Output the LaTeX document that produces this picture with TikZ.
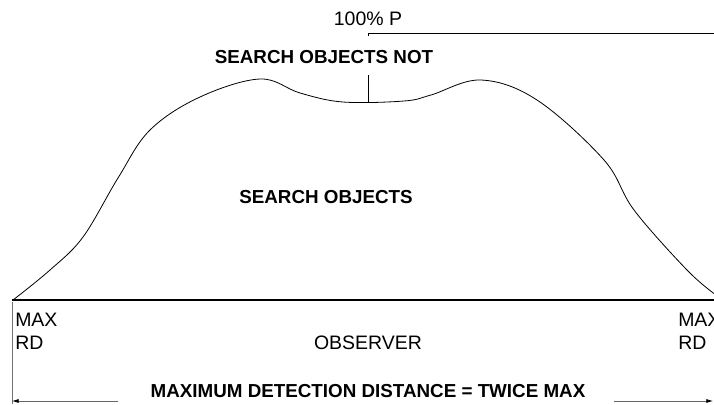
\documentclass[tikz,border=0pt]{standalone}
\usepackage{fontspec}
\setmainfont{Liberation Sans}
\usetikzlibrary{arrows.meta,positioning}

\begin{document}
\begin{tikzpicture}[
x=0.75pt, y=-0.75pt,
lbl/.style={inner sep=0pt, font=\fontsize{14.6}{16}\selectfont},
boldlbl/.style={inner sep=0pt, font=\fontsize{14.1}{16}\selectfont\bfseries},
curve/.style={line width=0.6pt},
ground/.style={line width=1.3pt},
thinline/.style={line width=0.5pt},
dimarrow/.style={-{Latex[length=5pt,width=3pt,black]}, line width=0.5pt, black!60}
]
\useasboundingbox (0,0) rectangle (714,404);
\clip (0,0) rectangle (714,404);

% detection curve
\draw[curve] plot[smooth, tension=0.6] coordinates {
(13,300) (50,270) (83,237) (118,178) (150,130) (200,97) (260,79)
(300,93) (343,102) (404,101) (431,95) (481,80) (537,100) (604,160)
(634,210) (687,270) (716,295)};
\coordinate (dip) at (368,102);

% observer line
\draw[ground] (12,300) -- (720,300);
\draw[thinline, black!55] (12,302) -- (12,404);

% labels
\node[lbl] (pct) at (368,19) {100\% P};
\draw[thinline] (368,36) |- (720,33);
\node[boldlbl] (notlbl) at (324,57) {SEARCH OBJECTS NOT};
\coordinate (tick) at (368,75);
\draw[thinline] (tick) -- (dip);
\node[boldlbl] (objlbl) at (326,197) {SEARCH OBJECTS};

\node[lbl, anchor=west] (maxl) at (15,320) {MAX};
\node[lbl, anchor=west] (rdl) at (15,343) {RD};
\node[lbl, anchor=west] (maxr) at (678,320) {MAX};
\node[lbl, anchor=west] (rdr) at (678,343) {RD};
\node[lbl] (obs) at (368,343) {OBSERVER};

\node[boldlbl] (dist) at (368,391) {MAXIMUM DETECTION DISTANCE = TWICE MAX};
\coordinate (lstart) at (118,401);
\coordinate (lend) at (12,401);
\coordinate (rstart) at (614,401);
\coordinate (rend) at (713,401);
\draw[dimarrow] (lstart) -- (lend);
\draw[dimarrow] (rstart) -- (rend);
\end{tikzpicture}
\end{document}
